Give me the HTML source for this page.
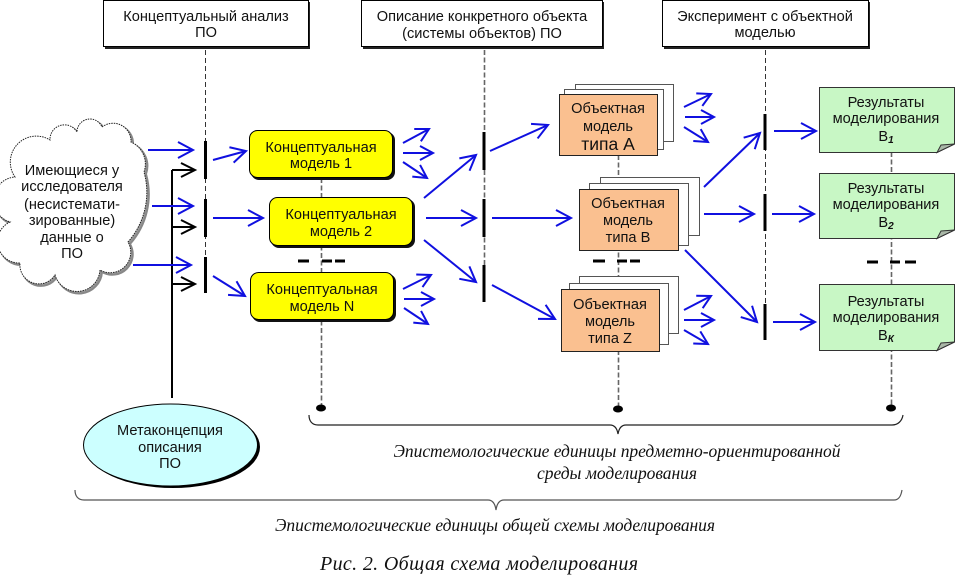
<!DOCTYPE html>
<html><head><meta charset="utf-8"><style>
html,body{margin:0;padding:0;background:#fff;width:955px;height:575px;overflow:hidden}
svg{display:block}
text{font-family:"Liberation Sans",sans-serif;font-size:14.6px;fill:#111;text-anchor:middle}
.s{font-family:"Liberation Serif",serif;font-style:italic;font-size:17.5px}
.b{fill:none;stroke:#1010e0;stroke-width:2;marker-end:url(#a)}
.f{fill:none;stroke:#1010e0;stroke-width:2;marker-end:url(#f)}
.k{fill:none;stroke:#000;stroke-width:2;marker-end:url(#k)}
.d{stroke:#333;stroke-width:1;stroke-dasharray:5 3;fill:none}
.e{stroke:#666;stroke-width:1.600;stroke-dasharray:5 2.500;fill:none}
.bar{stroke:#000;stroke-width:3;fill:none}
.c{fill:#ffff00;stroke:#000}
.o{fill:#fac090;stroke:#222}
.w{fill:#fff;stroke:#555}
.g{fill:#c8f7c5;stroke:#333}
.br{fill:none;stroke:#222;stroke-width:1.200}
</style></head><body>
<svg width="955" height="575" viewBox="0 0 955 575" xmlns="http://www.w3.org/2000/svg">
<defs>
<marker id="a" markerUnits="userSpaceOnUse" markerWidth="20" markerHeight="22" refX="17" refY="11" orient="auto"><path d="M2 3L17 11L2 19" fill="none" stroke="#1010e0" stroke-width="2"/></marker>
<marker id="f" markerUnits="userSpaceOnUse" markerWidth="20" markerHeight="22" refX="17" refY="11" orient="auto"><path d="M4 4L17 11L4 18" fill="none" stroke="#1010e0" stroke-width="2"/></marker>
<marker id="k" markerUnits="userSpaceOnUse" markerWidth="20" markerHeight="22" refX="17" refY="11" orient="auto"><path d="M3 4L17 11L3 18" fill="none" stroke="#000" stroke-width="2"/></marker>
</defs>
<rect width="955" height="575" fill="#fff"/>

<!-- dashed guides -->
<path class="d" d="M205.500 50V260M765.500 50V340"/>
<path class="e" d="M484.500 50V300M321.500 178V408M618.500 155V408M891.500 152V408"/>

<!-- headers -->
<rect x="105" y="2" width="205" height="47" fill="#222"/><rect x="103.500" y="0.500" width="205" height="46" fill="#fff" stroke="#000"/>
<rect x="363" y="2" width="241" height="47" fill="#222"/><rect x="361.500" y="0.500" width="241" height="46" fill="#fff" stroke="#000"/>
<rect x="664" y="2" width="206" height="47" fill="#222"/><rect x="662.500" y="0.500" width="206" height="46" fill="#fff" stroke="#000"/>
<text x="206" y="21">Концептуальный анализ</text><text x="206" y="37">ПО</text>
<text x="482" y="21">Описание конкретного объекта</text><text x="482" y="38">(системы объектов) ПО</text>
<text x="765" y="21">Эксперимент с объектной</text><text x="765" y="37">моделью</text>

<!-- cloud -->
<path transform="translate(2,2)" fill="#999" stroke="#888" stroke-width="2" d="M15 177A26 26 0 0 1 50 140A14.500 14.500 0 0 1 77 132A13 13 0 0 1 102 127A18 18 0 0 1 131 142A24 24 0 0 1 144 172A75 75 0 0 1 128 242A20.500 20.500 0 0 1 100 270A23 23 0 0 1 55 275A19 19 0 0 1 20 263A21.500 21.500 0 0 1 10 222A23 23 0 0 1 15 177Z"/>
<path fill="#fff" stroke="#222" stroke-dasharray="1.500 1" d="M15 177A26 26 0 0 1 50 140A14.500 14.500 0 0 1 77 132A13 13 0 0 1 102 127A18 18 0 0 1 131 142A24 24 0 0 1 144 172A75 75 0 0 1 128 242A20.500 20.500 0 0 1 100 270A23 23 0 0 1 55 275A19 19 0 0 1 20 263A21.500 21.500 0 0 1 10 222A23 23 0 0 1 15 177Z"/>
<text x="72" y="175">Имеющиеся у</text><text x="72" y="191">исследователя</text><text x="72" y="209">(несистемати-</text><text x="72" y="225">зированные)</text><text x="72" y="242">данные о</text><text x="72" y="258">ПО</text>

<!-- black metaconcept links -->
<path d="M172 398V170" stroke="#000" stroke-width="2" fill="none"/>
<path class="k" d="M172 170H195"/><path class="k" d="M172 227H195"/><path class="k" d="M172 284H195"/>

<!-- bars -->
<path class="bar" d="M205.500 141V179M205.500 199V237M205.500 257V293M484 132V170M484 199V237M484 265V302M765 114V150M765 194V231M765 304V340"/>

<!-- concept boxes -->
<rect x="251" y="132" width="144" height="48" rx="8" fill="#111"/><rect class="c" x="249.500" y="130.500" width="143" height="47" rx="8"/>
<rect x="271" y="199" width="144" height="49" rx="8" fill="#111"/><rect class="c" x="269.500" y="197.500" width="143" height="48" rx="8"/>
<rect x="252" y="274" width="144" height="48" rx="8" fill="#111"/><rect class="c" x="250.500" y="272.500" width="143" height="47" rx="8"/>
<text x="321" y="152">Концептуальная</text><text x="321" y="168">модель 1</text>
<text x="341" y="219">Концептуальная</text><text x="341" y="236">модель 2</text>
<text x="322" y="294">Концептуальная</text><text x="322" y="311">модель N</text>

<!-- object stacks -->
<rect class="w" x="575.500" y="84.500" width="98" height="57"/><rect class="w" x="564.500" y="89.500" width="99" height="60"/><rect class="o" x="559.500" y="94.500" width="98" height="61"/>
<rect class="w" x="600.500" y="177.500" width="99" height="58"/><rect class="w" x="589.500" y="183.500" width="99" height="62"/><rect class="o" x="579.500" y="189.500" width="99" height="61"/>
<rect class="w" x="579.500" y="276.500" width="99" height="57"/><rect class="w" x="569.500" y="283.500" width="99" height="61"/><rect class="o" x="561.500" y="289.500" width="98" height="62"/>
<text x="608" y="113">Объектная</text><text x="608" y="131">модель</text><text x="608" y="150" style="font-size:17.500px">типа А</text>
<text x="628" y="208">Объектная</text><text x="628" y="225">модель</text><text x="628" y="242">типа В</text>
<text x="610" y="309">Объектная</text><text x="610" y="326">модель</text><text x="610" y="343">типа Z</text>

<!-- result notes -->
<path class="g" d="M819.500 87.500H954.500V144L937 152.500H819.500Z"/><path d="M937 152.500L941 145L954.500 144Z" fill="#aab8a8" stroke="#333"/>
<path class="g" d="M819.500 173.500H954.500V230L937 238.500H819.500Z"/><path d="M937 238.500L941 231L954.500 230Z" fill="#aab8a8" stroke="#333"/>
<path class="g" d="M819.500 284.500H954.500V342L937 350.500H819.500Z"/><path d="M937 350.500L941 343L954.500 342Z" fill="#aab8a8" stroke="#333"/>
<text x="886" y="107">Результаты</text><text x="886" y="123">моделирования</text><text x="886" y="141">В<tspan font-size="10" font-weight="bold" font-style="italic" dy="2">1</tspan></text>
<text x="886" y="193">Результаты</text><text x="886" y="209">моделирования</text><text x="886" y="227">В<tspan font-size="10" font-weight="bold" font-style="italic" dy="2">2</tspan></text>
<text x="886" y="306">Результаты</text><text x="886" y="322">моделирования</text><text x="886" y="340">В<tspan font-size="10" font-weight="bold" font-style="italic" dy="2">К</tspan></text>

<!-- blue arrows -->
<path class="b" d="M148 150H193"/><path class="b" d="M213 160L246 151"/>
<path class="b" d="M152 206H193"/><path class="b" d="M213 218H263"/>
<path class="b" d="M133 265H191"/><path class="b" d="M213 276L245 296"/>
<path class="f" d="M403 143L429 129"/><path class="f" d="M403 153H433"/><path class="f" d="M403 162L427 178"/>
<path class="f" d="M403 289L431 275"/><path class="f" d="M404 299H434"/><path class="f" d="M404 308L428 324"/>
<path class="b" d="M424 198L476 155"/><path class="b" d="M426 218H476"/><path class="b" d="M424 240L476 282"/>
<path class="b" d="M490 151L548 125"/><path class="b" d="M492 218H571"/><path class="b" d="M492 285L555 319"/>
<path class="f" d="M684 107L711 94"/><path class="f" d="M685 117H714"/><path class="f" d="M684 127L708 142"/>
<path class="f" d="M684 310L711 296"/><path class="f" d="M684 320H714"/><path class="f" d="M684 330L708 344"/>
<path class="b" d="M704 187L760 133"/><path class="b" d="M704 214H754"/><path class="b" d="M685 250L757 322"/>
<path class="b" d="M774 131H816"/><path class="b" d="M772 214H814"/><path class="b" d="M773 322H815"/>

<!-- dashes -->
<path stroke="#000" stroke-width="3" fill="none" d="M298 261H309M322 261H332M335 261H345M593 261H605M617 261H627M630 261H640M867 262H878M890 262H900M905 262H916"/>

<!-- dots -->
<ellipse cx="321" cy="408" rx="5" ry="3.500" fill="#000"/><ellipse cx="618" cy="409" rx="5" ry="3.500" fill="#000"/><ellipse cx="891" cy="408" rx="5" ry="3.500" fill="#000"/>

<!-- ellipse -->
<ellipse cx="173" cy="447" rx="87" ry="41" fill="#000"/>
<ellipse cx="170.500" cy="445" rx="87" ry="41" fill="#ccffff" stroke="#000"/>
<text x="170" y="435">Метаконцепция</text><text x="170" y="452">описания</text><text x="170" y="468">ПО</text>

<!-- braces -->
<path class="br" d="M309 415C309 421 312 425 318 425H610C614 425 617 428 618 434C619 428 622 425 626 425H892C898 425 902 421 903 415"/>
<path class="br" style="stroke:#555" d="M75 490C75 496 78 500 84 500H488C492 500 495 503 496 510C497 503 500 500 504 500H894C899 500 901 496 902 490"/>

<!-- captions -->
<text class="s" x="617" y="457" textLength="447">Эпистемологические единицы предметно-ориентированной</text>
<text class="s" x="617" y="479" textLength="160">среды моделирования</text>
<text class="s" x="495" y="531" textLength="440">Эпистемологические единицы общей схемы моделирования</text>
<text class="s" x="479" y="570" style="font-size:20px" textLength="318">Рис. 2. Общая схема моделирования</text>
</svg>
</body></html>
